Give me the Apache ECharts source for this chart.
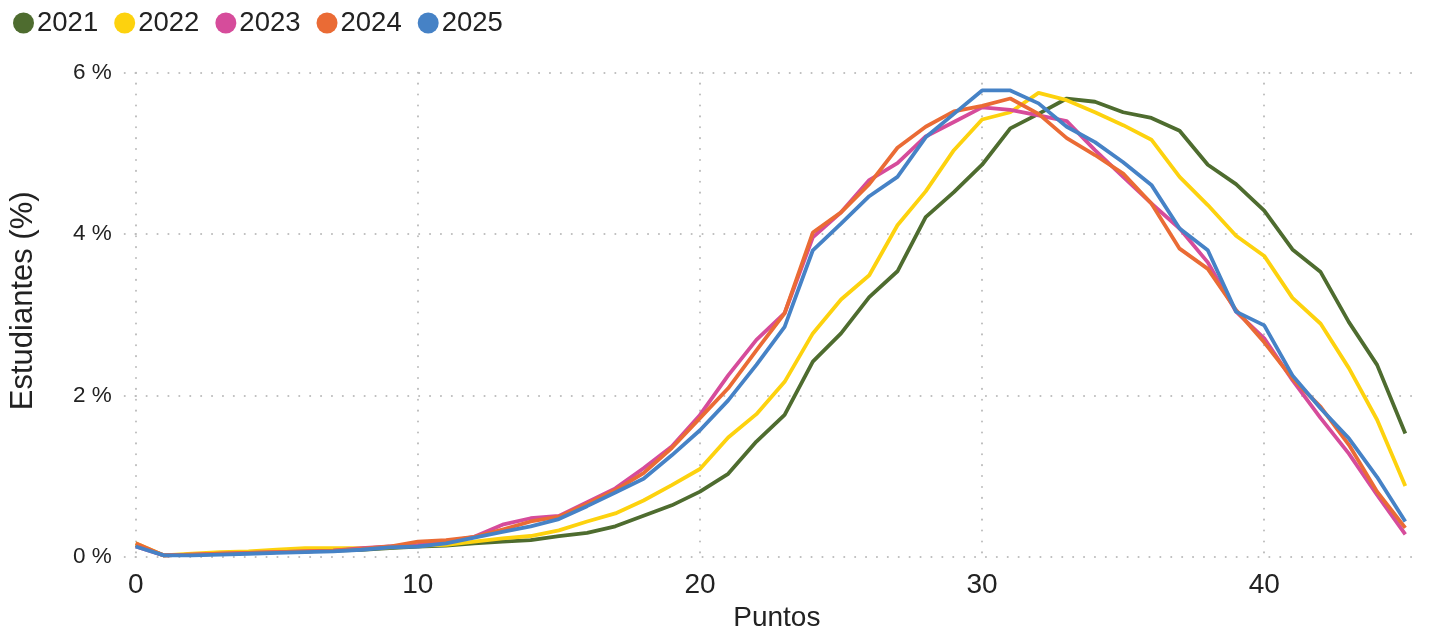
<!DOCTYPE html>
<html>
<head>
<meta charset="utf-8">
<script src="https://cdn.jsdelivr.net/npm/echarts@6/dist/echarts.min.js"></script>
<style>
html,body{margin:0;padding:0;background:#fff;}
#chart{width:1443px;height:633px;}
</style>
</head>
<body>
<div id="chart"></div>
<script>
const puntos = [0,1,2,3,4,5,6,7,8,9,10,11,12,13,14,15,16,17,18,19,20,21,22,23,24,25,26,27,28,29,30,31,32,33,34,35,36,37,38,39,40,41,42,43,44,45];
const years = ['2021','2022','2023','2024','2025'];
const s2021 = [0.15,0.02,0.03,0.04,0.05,0.06,0.07,0.08,0.09,0.11,0.13,0.14,0.17,0.19,0.21,0.26,0.30,0.38,0.51,0.64,0.81,1.03,1.43,1.76,2.42,2.77,3.22,3.54,4.21,4.52,4.86,5.31,5.49,5.68,5.64,5.51,5.44,5.28,4.86,4.62,4.29,3.81,3.53,2.91,2.38,1.53];
const s2022 = [0.17,0.02,0.04,0.06,0.07,0.09,0.11,0.11,0.11,0.12,0.14,0.15,0.19,0.23,0.26,0.33,0.44,0.54,0.70,0.89,1.09,1.48,1.77,2.17,2.77,3.19,3.49,4.11,4.53,5.04,5.42,5.51,5.75,5.66,5.51,5.35,5.17,4.71,4.36,3.98,3.73,3.21,2.89,2.34,1.70,0.88];
const s2023 = [0.13,0.02,0.03,0.04,0.05,0.06,0.07,0.08,0.11,0.13,0.15,0.19,0.25,0.40,0.48,0.51,0.68,0.85,1.10,1.37,1.76,2.25,2.69,3.02,3.96,4.27,4.67,4.88,5.21,5.39,5.57,5.54,5.47,5.40,5.04,4.71,4.38,4.07,3.65,3.04,2.71,2.19,1.72,1.28,0.77,0.28];
const s2024 = [0.17,0.02,0.03,0.04,0.05,0.06,0.07,0.08,0.10,0.13,0.19,0.21,0.25,0.34,0.44,0.50,0.66,0.83,1.04,1.35,1.72,2.09,2.56,3.02,4.02,4.27,4.62,5.07,5.33,5.52,5.59,5.68,5.49,5.19,4.98,4.75,4.38,3.82,3.57,3.06,2.66,2.21,1.86,1.39,0.81,0.36];
const s2025 = [0.13,0.02,0.02,0.03,0.04,0.05,0.06,0.07,0.09,0.12,0.13,0.17,0.24,0.31,0.38,0.47,0.63,0.80,0.97,1.26,1.57,1.94,2.38,2.85,3.80,4.13,4.47,4.71,5.20,5.49,5.78,5.78,5.62,5.33,5.14,4.89,4.61,4.07,3.80,3.04,2.87,2.25,1.84,1.47,0.99,0.44];
const yTicks = [0,2,4,6];
const colors = ['#4E6C2F','#FDD20E','#D64C9B','#EA6B35','#4682C6'];
const allSeries = [s2021,s2022,s2023,s2024,s2025];

const FONT = '"Liberation Sans", Arial, sans-serif';
const gridStyle = {color:'#bdbdbd', width:2, type:[0.1,10.8], cap:'round'};

const chart = echarts.init(document.getElementById('chart'), null, {renderer:'canvas'});
chart.setOption({
  animation:false,
  color: colors,
  textStyle:{fontFamily:FONT},
  legend:{
    left:8, top:4,
    icon:'circle', itemWidth:21, itemHeight:21, itemGap:16,
    textStyle:{fontSize:27.5, color:'#222', fontFamily:FONT, padding:[0,0,0,-2]},
    data: years
  },
  grid:{left:135.7, right:25, top:72.7, bottom:76, containLabel:false, outerBoundsMode:'none'},
  xAxis:{
    type:'value', min:0, max:45.45, interval:10,
    name:'Puntos', nameLocation:'middle', nameGap:47,
    nameTextStyle:{fontSize:28, color:'#222', fontFamily:FONT},
    axisLine:{show:false}, axisTick:{show:false},
    axisLabel:{fontSize:28, color:'#222', margin:14, showMaxLabel:false, fontFamily:FONT},
    splitLine:{show:true, lineStyle:gridStyle, showMaxLine:false}
  },
  yAxis:{
    type:'value', min:yTicks[0], max:yTicks[yTicks.length-1], interval:2,
    name:'Estudiantes (%)', nameLocation:'middle', nameGap:97, nameRotate:90,
    nameTextStyle:{fontSize:31, color:'#222', fontFamily:FONT, padding:[0,0,0,28]},
    axisLine:{show:false},
    axisTick:{show:true, length:12, lineStyle:gridStyle},
    axisLabel:{fontSize:22.5, color:'#222', margin:24, formatter:'{value} %', fontFamily:FONT, padding:[7,0,0,0]},
    splitLine:{show:true, lineStyle:gridStyle}
  },
  series: years.map((y,i)=>({
    name:y, type:'line', showSymbol:false, symbol:'none',
    lineStyle:{width:3.8, color:colors[i]},
    itemStyle:{color:colors[i]},
    data: puntos.map((p,j)=>[p, allSeries[i][j]])
  }))
});
</script>
</body>
</html>
